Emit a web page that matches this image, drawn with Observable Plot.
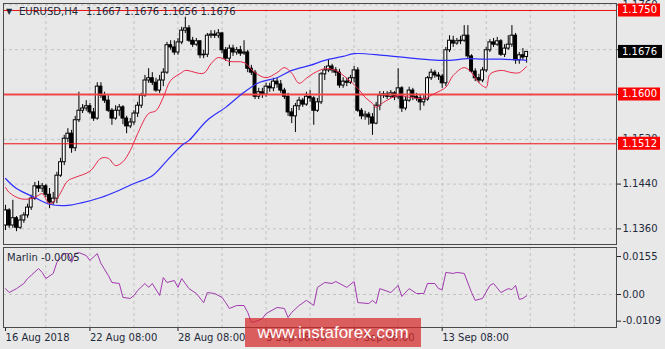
<!DOCTYPE html>
<html><head><meta charset="utf-8">
<script src="https://cdn.jsdelivr.net/npm/d3@7"></script>
<script src="https://cdn.jsdelivr.net/npm/@observablehq/plot@0.6"></script>
<style>
html,body{margin:0;padding:0;background:#e8e8e8;}
#wrap{position:relative;width:665px;height:349px;overflow:hidden;font-family:"DejaVu Sans",sans-serif;background:#e8e8e8;}
#main{position:absolute;left:0;top:0;}
#sub{position:absolute;left:0;top:246px;}
.t{position:absolute;font-size:10px;color:#1e2a3a;white-space:pre;line-height:12px;}
#wm{position:absolute;left:245px;top:318px;width:176px;height:29px;background:rgba(214,40,40,0.72);color:#fff;font:17px "Liberation Sans",Arial,sans-serif;display:flex;align-items:center;justify-content:center;}
</style></head><body>
<div id="wrap">
<div id="main"></div>
<div id="sub"></div>
<div class="t" style="left:6px;top:6px;font-size:8px;">▼</div>
<div class="t" style="left:19px;top:6px;">EURUSD,H4</div>
<div class="t" style="left:86px;top:6px;">1.1667 1.1676 1.1656 1.1676</div>
<div class="t" style="left:7px;top:252px;">Marlin -0.0005</div>
<div id="wm">www.instaforex.com</div>
</div>
<script>
// ---- candle data (H4 bars, index 0 = leftmost) ----
const open = [1.1366,1.1393,1.1366,1.1379,1.1362,1.1375,1.1384,1.1398,1.1414,1.1436,
1.1432,1.1436,1.1421,1.1407,1.1414,1.1455,1.1479,1.1521,1.1530,1.1504,
1.1554,1.1571,1.1575,1.1579,1.1568,1.1557,1.1614,1.1598,1.1589,1.1571,
1.1557,1.1571,1.1577,1.1557,1.1543,1.1550,1.1566,1.1580,1.1598,1.1625,
1.1629,1.1621,1.1607,1.1625,1.1639,1.1688,1.1684,1.1675,1.1693,1.1714,
1.1718,1.1696,1.1689,1.1695,1.1670,1.1671,1.1705,1.1707,1.1705,1.1709,
1.1679,1.1664,1.1682,1.1675,1.1679,1.1673,1.1675,1.1646,1.1639,1.1596,
1.1604,1.1600,1.1614,1.1611,1.1623,1.1618,1.1607,1.1596,1.1568,1.1561,
1.1579,1.1589,1.1582,1.1596,1.1593,1.1571,1.1586,1.1636,1.1643,1.1650,
1.1643,1.1639,1.1616,1.1623,1.1621,1.1629,1.1643,1.1571,1.1561,1.1564,
1.1559,1.1548,1.1580,1.1598,1.1600,1.1596,1.1602,1.1595,1.1611,1.1575,
1.1589,1.1607,1.1596,1.1593,1.1586,1.1591,1.1629,1.1639,1.1634,1.1632,
1.1620,1.1679,1.1696,1.1691,1.1695,1.1696,1.1705,1.1668,1.1641,1.1629,
1.1625,1.1643,1.1679,1.1693,1.1689,1.1695,1.1671,1.1682,1.1689,1.1705,
1.1661,1.1670,1.1667];
const close = [1.1393,1.1366,1.1379,1.1362,1.1375,1.1384,1.1398,1.1414,1.1436,1.1432,
1.1436,1.1421,1.1407,1.1414,1.1455,1.1479,1.1521,1.1530,1.1504,1.1554,
1.1571,1.1575,1.1579,1.1568,1.1557,1.1614,1.1598,1.1589,1.1571,1.1557,
1.1571,1.1577,1.1557,1.1543,1.1550,1.1566,1.1580,1.1598,1.1625,1.1629,
1.1621,1.1607,1.1625,1.1639,1.1688,1.1684,1.1675,1.1693,1.1714,1.1718,
1.1696,1.1689,1.1695,1.1670,1.1671,1.1705,1.1707,1.1705,1.1709,1.1679,
1.1664,1.1682,1.1675,1.1679,1.1673,1.1675,1.1646,1.1639,1.1596,1.1604,
1.1600,1.1614,1.1611,1.1623,1.1618,1.1607,1.1596,1.1568,1.1561,1.1579,
1.1589,1.1582,1.1596,1.1593,1.1571,1.1586,1.1636,1.1643,1.1650,1.1643,
1.1639,1.1616,1.1623,1.1621,1.1629,1.1643,1.1571,1.1561,1.1564,1.1559,
1.1548,1.1580,1.1598,1.1600,1.1596,1.1602,1.1595,1.1611,1.1575,1.1589,
1.1607,1.1596,1.1593,1.1586,1.1591,1.1629,1.1639,1.1634,1.1632,1.1620,
1.1679,1.1696,1.1691,1.1695,1.1696,1.1705,1.1668,1.1641,1.1629,1.1625,
1.1643,1.1679,1.1693,1.1689,1.1695,1.1671,1.1682,1.1689,1.1705,1.1661,
1.1670,1.1666,1.1676];
const high = [1.1402,1.1396,1.1411,1.1382,1.1384,1.1389,1.1404,1.1420,1.1443,1.1445,
1.1441,1.1439,1.1432,1.1425,1.1461,1.1486,1.1527,1.1539,1.1536,1.1561,
1.1604,1.1582,1.1589,1.1584,1.1575,1.1621,1.1621,1.1604,1.1598,1.1575,
1.1580,1.1582,1.1580,1.1561,1.1557,1.1571,1.1586,1.1602,1.1634,1.1646,
1.1639,1.1629,1.1634,1.1646,1.1693,1.1696,1.1696,1.1700,1.1720,1.1738,
1.1723,1.1702,1.1700,1.1696,1.1679,1.1709,1.1714,1.1714,1.1716,1.1711,
1.1684,1.1688,1.1688,1.1684,1.1686,1.1696,1.1679,1.1652,1.1643,1.1611,
1.1611,1.1620,1.1620,1.1629,1.1629,1.1625,1.1611,1.1602,1.1575,1.1584,
1.1595,1.1593,1.1604,1.1607,1.1596,1.1593,1.1639,1.1650,1.1661,1.1654,
1.1648,1.1645,1.1630,1.1629,1.1634,1.1650,1.1648,1.1575,1.1570,1.1568,
1.1566,1.1586,1.1605,1.1605,1.1605,1.1607,1.1605,1.1646,1.1614,1.1596,
1.1613,1.1611,1.1602,1.1600,1.1598,1.1632,1.1645,1.1643,1.1639,1.1636,
1.1684,1.1705,1.1704,1.1700,1.1704,1.1723,1.1723,1.1671,1.1646,1.1636,
1.1648,1.1684,1.1698,1.1700,1.1702,1.1698,1.1689,1.1705,1.1723,1.1709,
1.1675,1.1682,1.1676];
const low = [1.1357,1.1361,1.1361,1.1355,1.1359,1.1370,1.1379,1.1393,1.1411,1.1425,
1.1425,1.1416,1.1396,1.1402,1.1405,1.1452,1.1473,1.1514,1.1495,1.1498,
1.1550,1.1566,1.1570,1.1564,1.1552,1.1554,1.1593,1.1584,1.1568,1.1545,
1.1554,1.1561,1.1546,1.1530,1.1539,1.1545,1.1559,1.1575,1.1595,1.1620,
1.1616,1.1604,1.1602,1.1614,1.1636,1.1679,1.1670,1.1670,1.1689,1.1709,
1.1693,1.1684,1.1686,1.1664,1.1664,1.1666,1.1700,1.1700,1.1700,1.1673,
1.1659,1.1650,1.1668,1.1670,1.1668,1.1670,1.1639,1.1634,1.1591,1.1591,
1.1593,1.1595,1.1604,1.1605,1.1611,1.1602,1.1591,1.1561,1.1548,1.1532,
1.1571,1.1577,1.1579,1.1586,1.1545,1.1568,1.1582,1.1625,1.1639,1.1638,
1.1632,1.1611,1.1611,1.1614,1.1618,1.1621,1.1568,1.1555,1.1554,1.1545,
1.1527,1.1546,1.1571,1.1593,1.1591,1.1593,1.1589,1.1591,1.1568,1.1571,
1.1586,1.1589,1.1588,1.1571,1.1579,1.1588,1.1625,1.1629,1.1625,1.1611,
1.1614,1.1675,1.1684,1.1688,1.1689,1.1693,1.1664,1.1638,1.1623,1.1620,
1.1621,1.1639,1.1675,1.1684,1.1686,1.1668,1.1666,1.1679,1.1684,1.1654,
1.1654,1.1661,1.1656];

// ---- moving averages (bar index, price) ----
const redIdx = [0,1,4,7,9,10,12,14,17,19,23,26,28,30,32,34,36,39,41,43,45,48,49,54,56,58,61,65,68,71,74,76,78,80,82,84,87,90,93,96,98,100,101,103,107,110,114,117,120,122,125,127,129,131,132,135,138,140,142];
const redVal = [1.1434,1.1425,1.1414,1.1414,1.1420,1.1423,1.1405,1.1414,1.1446,1.1452,1.1463,1.1486,1.1486,1.1473,1.1480,1.1500,1.1530,1.1566,1.1571,1.1595,1.1625,1.1639,1.1643,1.1638,1.1655,1.1666,1.1659,1.1657,1.1639,1.1630,1.1639,1.1648,1.1638,1.1620,1.1629,1.1638,1.1646,1.1643,1.1629,1.1611,1.1595,1.1584,1.1577,1.1586,1.1598,1.1595,1.1593,1.1602,1.1613,1.1634,1.1648,1.1639,1.1621,1.1613,1.1636,1.1643,1.1639,1.1639,1.1650];
const blueIdx = [0,3,8,12,17,21,26,31,35,40,44,48,50,55,60,65,69,74,78,83,87,92,95,103,112,118,121,126,130,135,142];
const blueVal = [1.1450,1.1432,1.1416,1.1404,1.1402,1.1407,1.1416,1.1429,1.1441,1.1455,1.1482,1.1509,1.1518,1.1554,1.1577,1.1604,1.1621,1.1630,1.1643,1.1652,1.1661,1.1668,1.1673,1.1670,1.1664,1.1661,1.1661,1.1664,1.1663,1.1663,1.1661];

// ---- Marlin oscillator ----
const marlinIdx = [0,1,3,5,6,7,9,10,11,13,14,16,17,18,19,20,22,23,25,26,28,29,31,32,34,35,36,38,39,40,42,43,44,46,47,48,50,52,54,55,57,59,60,61,63,65,66,67,69,70,71,74,76,77,78,80,82,84,85,87,89,90,92,93,95,96,99,100,101,102,105,107,108,110,112,114,115,117,118,119,120,122,123,125,127,128,130,132,133,135,137,138,139,140,141,142];
const marlinVal = [0.0024,0.0008,0.0024,0.0045,0.0065,0.0078,0.0106,0.0090,0.0065,0.0086,0.0131,0.0167,0.0167,0.0131,0.0167,0.0171,0.0159,0.0139,0.0167,0.0127,0.0078,0.0049,0.0045,-0.0012,-0.0016,-0.0004,0.0016,0.0045,0.0029,0.0045,-0.0004,0.0069,0.0049,0.0057,0.0029,0.0065,0.0024,0.0004,-0.0033,0.0008,0.0004,-0.0012,-0.0033,-0.0057,-0.0045,-0.0045,-0.0073,-0.0114,-0.0106,-0.0098,-0.0078,-0.0053,-0.0057,-0.0094,-0.0073,-0.0045,-0.0024,-0.0045,0.0029,0.0049,0.0045,0.0053,0.0037,0.0029,0.0053,-0.0033,-0.0037,-0.0024,-0.0037,0.0024,0.0008,0.0037,-0.0008,0.0024,0.0004,0.0004,0.0045,0.0045,0.0024,0.0020,0.0090,0.0086,0.0090,0.0086,0.0008,-0.0024,-0.0016,0.0037,0.0045,0.0008,0.0024,0.0020,0.0037,-0.0020,-0.0016,-0.0005];

// ---- axes / levels ----
const priceTicks = [1.1360,1.1440,1.1520,1.1600,1.1680,1.1760];
const hiddenTickLabels = [1.1600,1.1680]; // fully covered by the level / price boxes
const levels = [1.1750,1.1600,1.1512];
const lastPrice = 1.1676;
const subTicks = [0.0155,0,-0.0109];
const subTickLabels = ["0.0155","0.00","-0.0109"];
const timeTickBars = [0,23,47,71,95,119];
const timeTickLabels = ["16 Aug 2018","22 Aug 08:00","28 Aug 08:00","3 Sep 08:00","7 Sep 08:00","13 Sep 08:00"];
const gridBars = [11,23,35,47,59,71,83,95,107,119,131,143,155];

const bars = close.map((c,i)=>({i, o:open[i], h:high[i], l:low[i], c}));
const red = redIdx.map((i,k)=>({i, v:redVal[k]}));
const blue = blueIdx.map((i,k)=>({i, v:blueVal[k]}));
const marlin = marlinIdx.map((i,k)=>({i, v:marlinVal[k]}));

const xDomain = [-0.55, 166.5];
const gridStyle = {stroke:"#c2c2c2", strokeDasharray:"3,3"};
const st = {background:"transparent", fontFamily:"DejaVu Sans", fontSize:"10px", color:"#1e2a3a", overflow:"visible"};

const main = Plot.plot({
  width:665, height:246, marginTop:3, marginBottom:2, marginLeft:3, marginRight:49,
  style:st,
  x:{domain:xDomain, axis:null, label:null},
  y:{domain:[1.13321,1.17625], axis:null, label:null},
  color:{type:"identity"},
  marks:[
    Plot.ruleY(priceTicks, gridStyle),
    Plot.ruleX(gridBars, gridStyle),
    Plot.ruleX(bars, {x:"i", y1:"l", y2:"h", stroke:"#000", strokeWidth:1}),
    Plot.rect(bars, {x1:d=>d.i-0.4, x2:d=>d.i+0.4, y1:"o", y2:"c",
      fill:d=>d.c>=d.o?"#ffffff":"#000000", stroke:"#000", strokeWidth:1}),
    Plot.ruleY([levels[0], levels[2]], {stroke:"#ee1111", strokeWidth:1}),
    Plot.ruleY([levels[1]], {stroke:"#f04848", strokeWidth:2}),
    Plot.line(blue, {x:"i", y:"v", stroke:"#2f2fff", strokeWidth:1.2, curve:"catmull-rom"}),
    Plot.line(red, {x:"i", y:"v", stroke:"#e8264a", strokeWidth:1, curve:"catmull-rom"}),
    Plot.axisY(priceTicks, {anchor:"right", label:null,
      tickFormat:d=>hiddenTickLabels.includes(d) ? "" : d.toFixed(4),
      tickSize:4, tickPadding:2, stroke:"#222", fill:"#1e2a3a"}),
    Plot.frame({stroke:"#4a4a4a"})
  ]
});
document.getElementById("main").appendChild(main);

// price labels on the right axis
const ys = main.scale("y");
const g = d3.select(main).append("g")
  .attr("font-family","DejaVu Sans").attr("font-size",10).attr("text-anchor","start");
levels.forEach(v => {
  const y = ys.apply(v);
  g.append("rect").attr("x",618).attr("y",y-6.5).attr("width",42).attr("height",13).attr("fill","#ff0000");
  g.append("text").attr("x",622).attr("y",y).attr("dy","0.35em").attr("fill","#fff").text(v.toFixed(4));
});
{
  const y = ys.apply(lastPrice);
  g.append("rect").attr("x",618).attr("y",y-6.5).attr("width",44).attr("height",13).attr("fill","#000");
  g.append("text").attr("x",622).attr("y",y).attr("dy","0.35em").attr("fill","#fff").text(lastPrice.toFixed(4));
}

const sub = Plot.plot({
  width:665, height:103, marginTop:1, marginBottom:22, marginLeft:3, marginRight:49,
  style:st,
  x:{domain:xDomain, axis:null, label:null},
  y:{domain:[-0.01347,0.01918], axis:null, label:null},
  marks:[
    Plot.ruleY([0], gridStyle),
    Plot.ruleX(gridBars, gridStyle),
    Plot.line(marlin, {x:"i", y:"v", stroke:"#a238b0", strokeWidth:1}),
    Plot.axisY(subTicks, {anchor:"right", label:null, tickFormat:d=>subTickLabels[subTicks.indexOf(d)], tickSize:4, tickPadding:2, stroke:"#222", fill:"#1e2a3a"}),
    Plot.axisX(timeTickBars, {anchor:"bottom", label:null, tickFormat:d=>timeTickLabels[timeTickBars.indexOf(d)], textAnchor:"start", tickSize:4, tickPadding:2, stroke:"#222", fill:"#1e2a3a"}),
    Plot.frame({stroke:"#4a4a4a"})
  ]
});
document.getElementById("sub").appendChild(sub);
</script>
</body></html>
